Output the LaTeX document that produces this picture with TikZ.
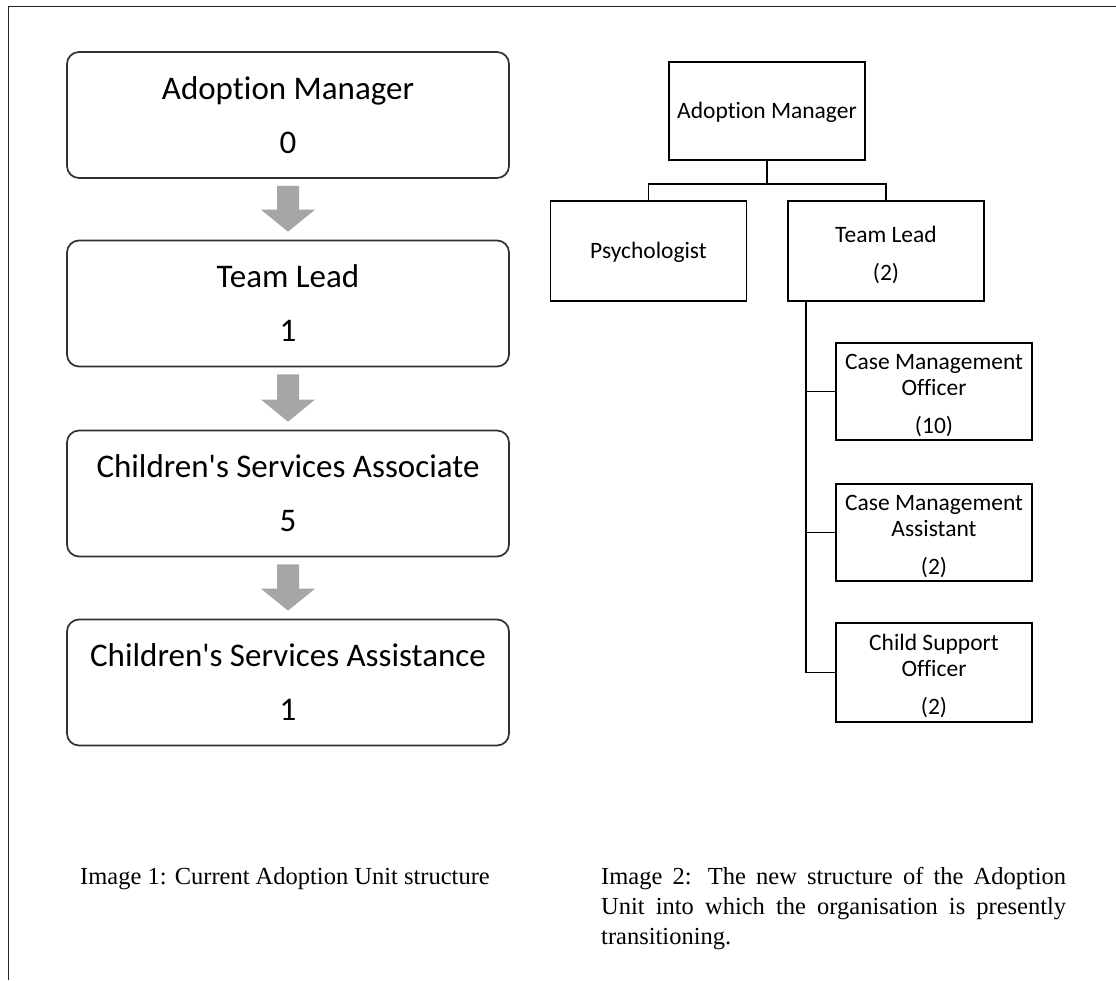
\documentclass[tikz,border=0pt]{standalone}
\usepackage{fontspec}
\newfontfamily\calib{Carlito}[Ligatures=NoCommon]
\newfontfamily\capfont{Liberation Serif}
\usetikzlibrary{calc}
\definecolor{arrowgray}{HTML}{A6A6A6}
\definecolor{boxline}{HTML}{303030}
\newcommand\tallfirst{\rule{0pt}{24pt}}
\tikzset{
  oldbox/.style={draw=boxline, line width=1.7pt, rounded corners=12pt, align=center,
    minimum width=442pt, minimum height=126pt, inner sep=0pt,
    font=\calib\fontsize{33}{54}\selectfont},
  newbox/.style={draw=black, line width=1.8pt, align=center,
    minimum width=196pt, minimum height=98pt, inner sep=0pt,
    font=\calib\fontsize{23.5}{26}\selectfont},
  link/.style={draw=black, line width=1.8pt},
  captext/.style={anchor=base west, inner sep=0pt, font=\capfont\fontsize{24.5}{30}\selectfont}
}
\begin{document}
\begin{tikzpicture}[x=1pt,y=-1pt]
\useasboundingbox (0,0) rectangle (1116,980);
\fill[white] (0,0) rectangle (1116,980);
% frame
\draw[line width=1.8pt, black!85] (1116,6.5) -- (8.5,6.5) -- (8.5,980);

% left chart
\node[oldbox] (b1) at (288,115) {Adoption Manager\\0};
\node[oldbox] (b2) at (288,303.5) {Team Lead\\1};
\node[oldbox] (b3) at (288,493.5) {Children's Services Associate\\5};
\node[oldbox] (b4) at (288,682.5) {Children's Services Assistance\\1};
\foreach \a/\b in {b1/b2,b2/b3,b3/b4}{
  \fill[arrowgray] ($(\a.south)+(-11,7)$) -- ($(\a.south)+(11,7)$)
    -- ($(\b.north)+(11,-30)$) -- ($(\b.north)+(27,-30)$)
    -- ($(\b.north)+(0,-8)$) -- ($(\b.north)+(-27,-30)$)
    -- ($(\b.north)+(-11,-30)$) -- cycle;
}

% right chart
\node[newbox] (am) at (767,111) {\rule{0pt}{19.5pt}Adoption Manager};
\node[newbox, minimum height=100pt] (ps) at (648.5,251) {\rule{0pt}{20pt}Psychologist};
\node[newbox, minimum height=100pt] (tl) at (886,251) {\tallfirst Team Lead\\[12pt](2)};
\node[newbox, minimum height=97pt] (cmo) at (934,391.5) {\tallfirst Case Management\\Officer\\[12pt](10)};
\node[newbox, minimum height=97pt] (cma) at (934,532.5) {\tallfirst Case Management\\Assistant\\[12pt](2)};
\node[newbox, minimum height=99pt] (cso) at (934,672.5) {\tallfirst Child Support\\Officer\\[12pt](2)};

\draw[link] (am.south) -- ++(0,23) -| (ps.north);
\draw[link] (am.south) -- ++(0,23) -| (tl.north);
\coordinate (tlv) at ($(tl.south west)+(19,0)$);
\draw[link] (tlv) |- (cmo.west);
\draw[link] (tlv) |- (cma.west);
\draw[link] (tlv) |- (cso.west);

% captions
\node[captext] (c1) at (80,884) {Image 1: Current Adoption Unit structure};
\node[captext] (c2a) at (601,884) {\makebox[465pt][s]{Image 2: The new structure of the Adoption}};
\node[captext] (c2b) at (601,914) {\makebox[465pt][s]{Unit into which the organisation is presently}};
\node[captext] (c2c) at (601,944) {transitioning.};
\end{tikzpicture}
\end{document}
